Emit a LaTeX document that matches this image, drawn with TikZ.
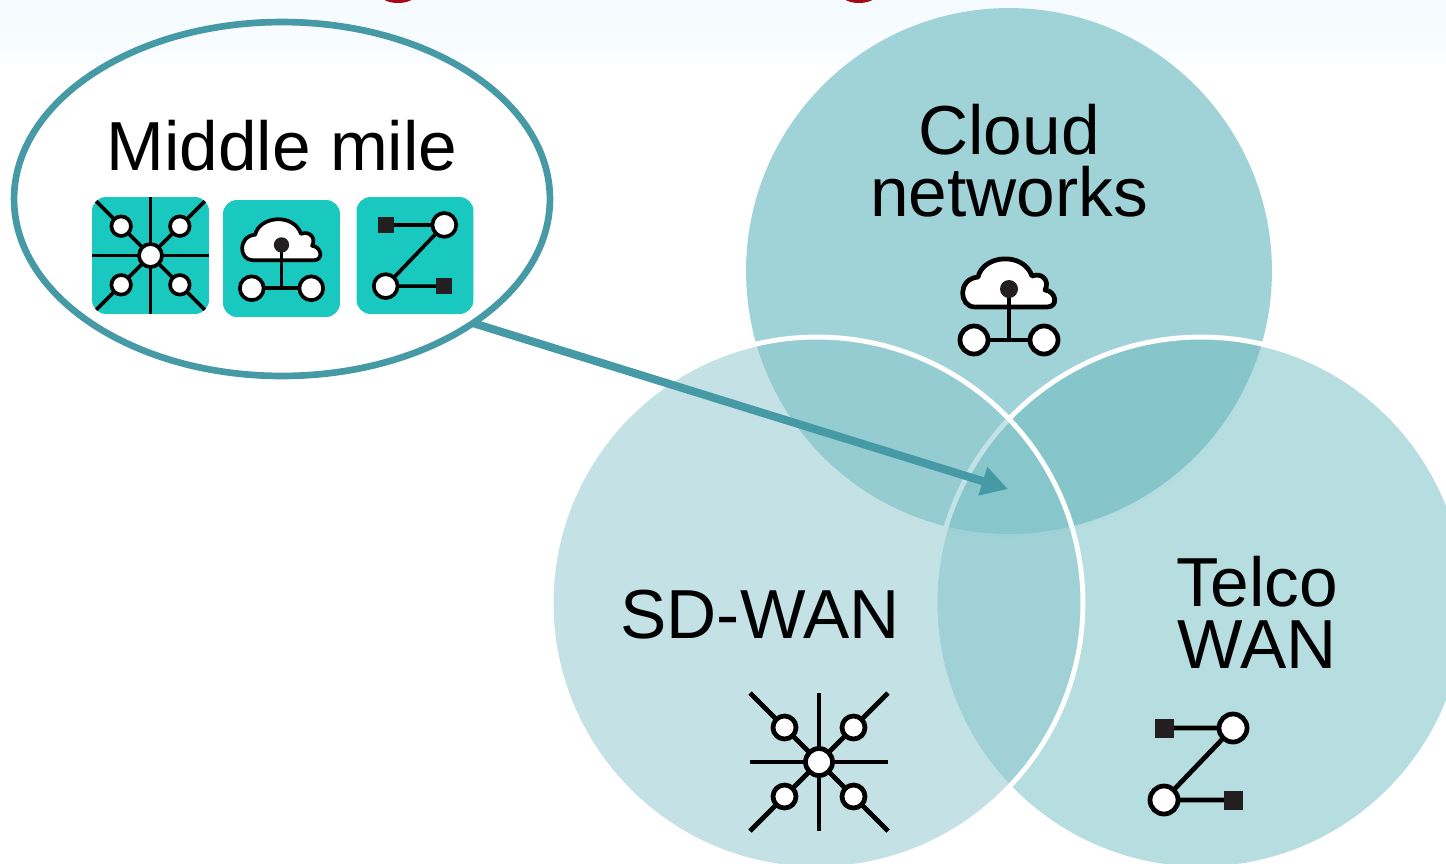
\documentclass[tikz,border=0pt]{standalone}
\usepackage{fontspec}
\setmainfont{Liberation Sans}
\usetikzlibrary{arrows.meta,shapes.geometric}
\definecolor{tealline}{HTML}{459AA5}
\definecolor{tealtile}{HTML}{19C9BF}
\definecolor{cloudfill}{HTML}{A0D3D7}
\definecolor{wanfill}{HTML}{89C6CC}
\definecolor{telcofill}{HTML}{6DBBC1}
\definecolor{squarefill}{HTML}{231F20}
\definecolor{bandtop}{HTML}{F4FAFE}
\definecolor{bandbottom}{HTML}{FAFDFF}
\definecolor{titlered}{HTML}{A50A14}
\tikzset{
  pics/hubicon/.style={code={
    \foreach \ang in {0,90,180,270}
      \draw (0,0) -- (\ang:69);
    \foreach \sx/\sy in {-1/-1,1/-1,-1/1,1/1} {
      \draw (0,0) -- (\sx*69,\sy*69);
      \draw[fill=white] (\sx*34.5,\sy*34.5) circle[radius=11.5];
    }
    \draw[fill=white] (0,0) circle[radius=13.5];
  }},
  pics/cloudicon/.style={code={
    \draw (-35,35) -- (35,35);
    \draw[fill=white,line join=round] (-34,2) .. controls (-50,2) and (-52,-26) .. (-31,-28)
      .. controls (-26,-50) and (14,-54) .. (23,-29)
      .. controls (33,-33) and (41,-24) .. (36,-15)
      .. controls (47,-14) and (50,2) .. (38,2) -- cycle;
    \draw (0,-16) -- (0,35);
    \fill[squarefill] (0,-16) circle[radius=9];
    \foreach \sx in {-1,1}
      \draw[fill=white] (\sx*35,35) circle[radius=14];
  }},
  pics/zigicon/.style={code={
    \draw (-34.5,-36) -- (34.5,-36) -- (-34.5,36) -- (34.5,36);
    \fill[squarefill] (-44,-45.5) rectangle (-25,-26.5);
    \fill[squarefill] (25,26.5) rectangle (44,45.5);
    \draw[fill=white] (34.5,-36) circle[radius=14];
    \draw[fill=white] (-34.5,36) circle[radius=14];
  }},
  bigicon/.style={line width=2.7pt},
  tileicon/.style={scale=.85,line width=2.1pt},
}
\begin{document}
\begin{tikzpicture}[x=.02cm,y=-.02cm,
    every node/.style={outer sep=0pt,inner sep=0pt},
    venn/.style={circle,minimum size=10.64cm},
    tilebox/.style={fill=tealtile,rounded corners=8pt,minimum size=2.34cm},
    bigtext/.style={font=\fontsize{39.5}{35}\selectfont,align=center,anchor=base}]
    \useasboundingbox (0,0) rectangle (1446,863);
    \clip (0,0) rectangle (1446,863);
    \shade[top color=bandtop,bottom color=bandbottom] (0,0) rectangle (1446,62);
    \fill[titlered] (398,-6) ellipse[x radius=18,y radius=9];
    \fill[titlered] (859,-6) ellipse[x radius=18,y radius=9];

    % venn circles, back to front
    \draw[white,line width=1.6pt] (1009,271) ++(30:265) arc[start angle=30,end angle=150,radius=265];
    \node[circle,minimum size=10.52cm,fill=cloudfill] (cloudc) at (1009,271) {};
    \node[venn,draw=white,line width=2.8pt,fill=telcofill,fill opacity=.5] (telcoc) at (1201,603) {};
    \node[venn,draw=white,line width=2.8pt,fill=wanfill,fill opacity=.5] (wanc) at (817,603) {};

    \node[bigtext] (cloudlabel) at (1009,216) {Cloud\\networks};
    \node[bigtext] (wanlabel) at (760,638) {SD-WAN};
    \node[bigtext] (telcolabel) at (1257,668) {Telco\\WAN};
    \pic[bigicon] at (1009,305) {cloudicon};
    \pic[bigicon] at (819,762) {hubicon};
    \pic[bigicon] at (1198.5,764) {zigicon};

    % callout
    \node[ellipse,draw=tealline,line width=3.8pt,minimum width=10.72cm,minimum height=7.08cm] (midmile) at (282,199) {};
    \node[bigtext] (midlabel) at (282,170) {Middle mile};
    \node[tilebox] (hubtile) at (150.5,255.5) {};
    \node[tilebox] (cloudtile) at (281.5,258.5) {};
    \node[tilebox] (zigtile) at (415,255.5) {};
    \begin{scope}
      \clip[rounded corners=8pt] (hubtile.south west) rectangle (hubtile.north east);
      \pic[tileicon] at (hubtile) {hubicon};
    \end{scope}
    \pic[tileicon] at (cloudtile) {cloudicon};
    \pic[tileicon] at (zigtile) {zigicon};

    \coordinate (target) at (1008,489);
    \draw[tealline,line width=4.6pt,-{Triangle[length=15pt,width=16pt]}] (midmile.-33) -- (target);
\end{tikzpicture}
\end{document}
